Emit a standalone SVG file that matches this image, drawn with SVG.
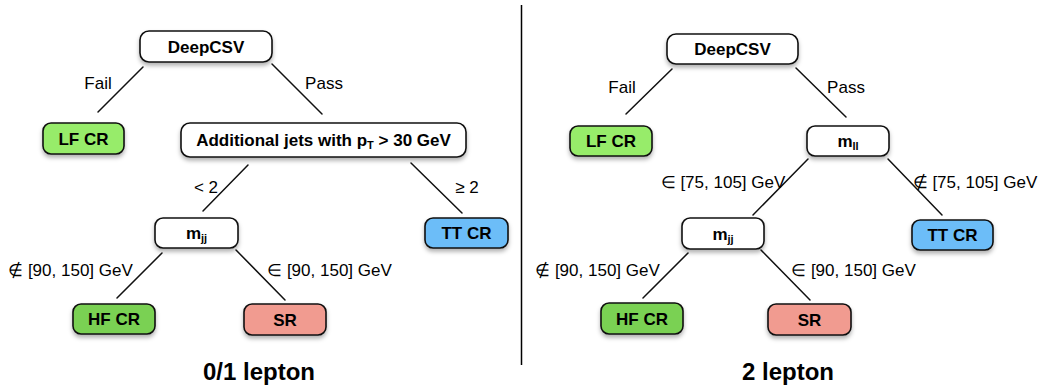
<svg xmlns="http://www.w3.org/2000/svg" width="1046" height="390" viewBox="0 0 1046 390">
<defs>
<filter id="sh" x="-20%" y="-30%" width="140%" height="170%">
<feDropShadow dx="0" dy="3" stdDeviation="2" flood-color="#000" flood-opacity="0.3"/>
</filter>
<style>
.box{stroke:#111;stroke-width:1.6;filter:url(#sh)}
.w{fill:#fff}.lf{fill:#97ec6b}.hf{fill:#7ad152}.sr{fill:#f19b90}.tt{fill:#6cbdf8}
.bt{font-family:"Liberation Sans",Arial,sans-serif;font-weight:bold;font-size:17px;fill:#000;text-anchor:middle}
.lt{font-family:"Liberation Sans",Arial,sans-serif;font-size:17px;fill:#000;text-anchor:middle}
.tt2{font-family:"Liberation Sans",Arial,sans-serif;font-weight:bold;font-size:24px;fill:#000;text-anchor:middle}
.sub{font-size:11px}
#edges line{stroke:#111;stroke-width:1.5;stroke-linecap:round}
</style>
</defs>
<rect width="1046" height="390" fill="#fff"/>
<line x1="521.5" y1="5" x2="521.5" y2="365" stroke="#000" stroke-width="1.5"/>
<g id="edges">
<line x1="143" y1="67" x2="98" y2="112"/>
<line x1="272" y1="64" x2="322" y2="114"/>
<line x1="248" y1="165" x2="203" y2="211"/>
<line x1="411" y1="163" x2="462" y2="213"/>
<line x1="162" y1="253" x2="117" y2="298"/>
<line x1="236" y1="250" x2="285" y2="300"/>
<line x1="672" y1="69" x2="626" y2="114"/>
<line x1="796" y1="68" x2="846" y2="117"/>
<line x1="808" y1="159" x2="753" y2="215"/>
<line x1="888" y1="159" x2="942" y2="215"/>
<line x1="688" y1="253" x2="643" y2="298"/>
<line x1="761" y1="250" x2="810" y2="300"/>
</g>
<g id="edge-labels">
<text class="lt" x="98" y="89">Fail</text>
<text class="lt" x="324" y="89">Pass</text>
<text class="lt" x="206" y="193">&lt; 2</text>
<text class="lt" x="467" y="193">≥ 2</text>
<text class="lt" x="70.5" y="276">∉ [90, 150] GeV</text>
<text class="lt" x="329.5" y="276">∈ [90, 150] GeV</text>
<text class="lt" x="622" y="93">Fail</text>
<text class="lt" x="846" y="93">Pass</text>
<text class="lt" x="723" y="188">∈ [75, 105] GeV</text>
<text class="lt" x="975" y="188">∉ [75, 105] GeV</text>
<text class="lt" x="597.5" y="276">∉ [90, 150] GeV</text>
<text class="lt" x="853.5" y="276">∈ [90, 150] GeV</text>
</g>
<g id="L-deepcsv"><rect class="box w" x="140" y="31" width="132" height="31" rx="9"/><text class="bt" x="206" y="52.5">DeepCSV</text></g>
<g id="L-lfcr"><rect class="box lf" x="43" y="123" width="81" height="31" rx="8"/><text class="bt" x="83.5" y="144.5">LF CR</text></g>
<g id="L-addjets"><rect class="box w" x="181" y="123" width="285" height="34" rx="9"/><text class="bt" x="323.5" y="146">Additional jets with p<tspan class="sub" dy="3">T</tspan><tspan dy="-3"> &gt; 30 GeV</tspan></text></g>
<g id="L-mjj"><rect class="box w" x="155" y="218" width="83" height="30" rx="8"/><text class="bt" x="196.5" y="239">m<tspan class="sub" dy="3">jj</tspan></text></g>
<g id="L-ttcr"><rect class="box tt" x="425" y="218" width="83" height="30" rx="8"/><text class="bt" x="466.5" y="239">TT CR</text></g>
<g id="L-hfcr"><rect class="box hf" x="73" y="304" width="82" height="30" rx="8"/><text class="bt" x="114" y="325">HF CR</text></g>
<g id="L-sr"><rect class="box sr" x="244" y="304" width="82" height="31" rx="8"/><text class="bt" x="285" y="325.5">SR</text></g>
<g id="R-deepcsv"><rect class="box w" x="667" y="34" width="131" height="30" rx="9"/><text class="bt" x="732.5" y="55">DeepCSV</text></g>
<g id="R-lfcr"><rect class="box lf" x="570" y="126" width="82" height="30" rx="8"/><text class="bt" x="611" y="147">LF CR</text></g>
<g id="R-mll"><rect class="box w" x="807" y="126" width="82" height="30" rx="8"/><text class="bt" x="848" y="147">m<tspan class="sub" dy="3">ll</tspan></text></g>
<g id="R-mjj"><rect class="box w" x="682" y="218" width="82" height="31" rx="8"/><text class="bt" x="723" y="239.5">m<tspan class="sub" dy="3">jj</tspan></text></g>
<g id="R-ttcr"><rect class="box tt" x="912" y="220" width="81" height="30" rx="8"/><text class="bt" x="952.5" y="241">TT CR</text></g>
<g id="R-hfcr"><rect class="box hf" x="601" y="303" width="82" height="31" rx="8"/><text class="bt" x="642" y="324.5">HF CR</text></g>
<g id="R-sr"><rect class="box sr" x="768" y="304" width="83" height="31" rx="8"/><text class="bt" x="809.5" y="325.5">SR</text></g>
<text class="tt2" x="259" y="380">0/1 lepton</text>
<text class="tt2" x="788" y="380">2 lepton</text>
</svg>
